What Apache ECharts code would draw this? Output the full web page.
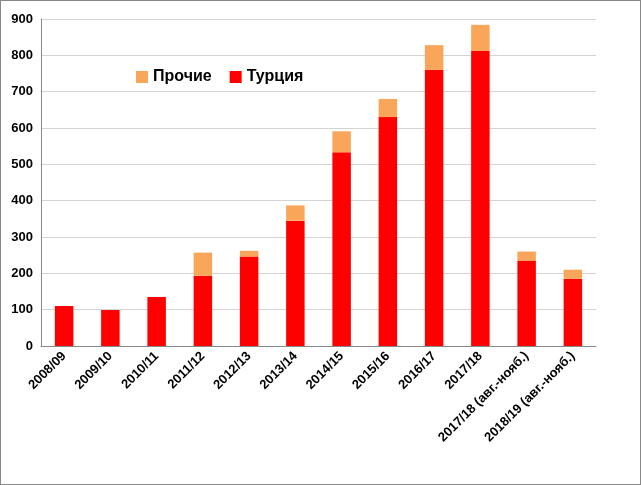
<!DOCTYPE html><html><head><meta charset="utf-8">
<script src="https://cdn.jsdelivr.net/npm/echarts@6/dist/echarts.min.js"></script>
<style>html,body{margin:0;padding:0;background:#fff}#c{width:639px;height:483px;border:1px solid #888}</style>
</head><body><div id="c"></div><script>
const categories=["2008/09","2009/10","2010/11","2011/12","2012/13","2013/14","2014/15","2015/16","2016/17","2017/18","2017/18 (авг.-нояб.)","2018/19 (авг.-нояб.)"];
const turkey=[110,99,135,193,246,345,533,630,760,812,235,185];
const others=[0,0,0,64,16,42,58,50,68,72,25,25];
const yTicks=[0,100,200,300,400,500,600,700,800,900];
const chart=echarts.init(document.getElementById('c'));
chart.setOption({
animation:false,
grid:{left:40,right:44,top:18,bottom:138},
legend:{left:130,top:63,itemWidth:12,itemHeight:12,itemGap:18,icon:'rect',
 textStyle:{fontFamily:'Liberation Sans',fontWeight:'bold',fontSize:16,color:'#000'},
 data:['Прочие','Турция']},
xAxis:{type:'category',data:categories,
 axisLine:{lineStyle:{color:'#888'}},axisTick:{show:false},
 axisLabel:{interval:0,rotate:45,fontFamily:'Liberation Sans',fontWeight:'bold',fontSize:13,color:'#000',margin:8}},
yAxis:{type:'value',min:0,max:900,interval:100,
 axisLine:{show:true,lineStyle:{color:'#888'}},axisTick:{show:false},
 splitLine:{show:true,lineStyle:{color:'#d4d4d4'}},
 axisLabel:{fontFamily:'Liberation Sans',fontWeight:'bold',fontSize:13,color:'#000',
  formatter:v=>yTicks.includes(v)?String(v):''}},
series:[
 {name:'Турция',type:'bar',stack:'a',data:turkey,barWidth:'40%',itemStyle:{color:'#ff0000'}},
 {name:'Прочие',type:'bar',stack:'a',data:others,itemStyle:{color:'#f9a65a'}}
]});
</script></body></html>
